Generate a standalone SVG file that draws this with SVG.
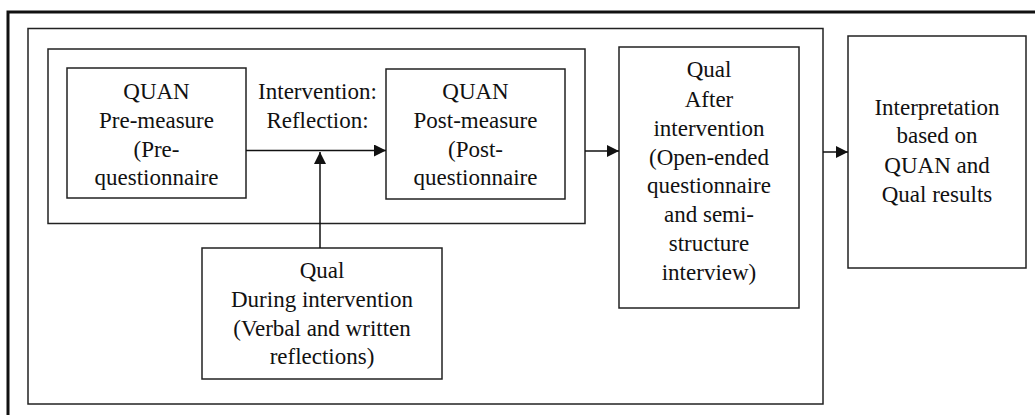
<svg xmlns="http://www.w3.org/2000/svg" width="1035" height="415" viewBox="0 0 1035 415">
<defs>
<style>
.box{fill:none;stroke:#222;stroke-width:1.5}
.frame{fill:none;stroke:#111;stroke-width:3}
.conn{fill:none;stroke:#111;stroke-width:1.5}
.t{font-family:'Liberation Serif','DejaVu Serif',serif;font-size:23px;fill:#111;text-anchor:middle}
</style>
<marker id="ah" viewBox="0 0 12 12" refX="12" refY="6" markerWidth="12" markerHeight="12" markerUnits="userSpaceOnUse" orient="auto">
<path d="M0,0 L12,6 L0,12 Z" fill="#111"/>
</marker>
</defs>
<rect width="1035" height="415" fill="#fff"/>
<g id="outer-frame"><path class="frame" d="M8,420 V12 H1040"/></g>
<g id="frame-all"><rect class="box" x="28" y="28.5" width="795" height="375.5"/></g>
<g id="frame-quan"><rect class="box" x="48" y="49" width="537" height="174.5"/></g>
<g id="quan-pre" class="t" font-family="Liberation Serif, DejaVu Serif, serif">
<rect class="box" x="67" y="68" width="179" height="130"/>
<text x="156.5" y="99">QUAN</text>
<text x="156.5" y="128">Pre-measure</text>
<text x="156.5" y="157">(Pre-</text>
<text x="156.5" y="185">questionnaire</text>
</g>
<g id="intervention-label" class="t" font-family="Liberation Serif, DejaVu Serif, serif">
<text x="317.5" y="98.5">Intervention:</text>
<text x="317.5" y="128">Reflection:</text>
</g>
<g id="quan-post" class="t" font-family="Liberation Serif, DejaVu Serif, serif">
<rect class="box" x="386" y="69" width="179" height="130"/>
<text x="475.5" y="99">QUAN</text>
<text x="475.5" y="128">Post-measure</text>
<text x="475.5" y="157">(Post-</text>
<text x="475.5" y="185">questionnaire</text>
</g>
<g id="qual-during" class="t" font-family="Liberation Serif, DejaVu Serif, serif">
<rect class="box" x="202" y="248" width="240" height="131"/>
<text x="322" y="278">Qual</text>
<text x="322" y="307">During intervention</text>
<text x="322" y="336">(Verbal and written</text>
<text x="322" y="364">reflections)</text>
</g>
<g id="qual-after" class="t" font-family="Liberation Serif, DejaVu Serif, serif">
<rect class="box" x="619" y="47" width="180" height="261"/>
<text x="709" y="77">Qual</text>
<text x="709" y="107">After</text>
<text x="709" y="136">intervention</text>
<text x="709" y="165">(Open-ended</text>
<text x="709" y="193">questionnaire</text>
<text x="709" y="222">and semi-</text>
<text x="709" y="251">structure</text>
<text x="709" y="280">interview)</text>
</g>
<g id="interpretation" class="t" font-family="Liberation Serif, DejaVu Serif, serif">
<rect class="box" x="848" y="36" width="178" height="232"/>
<text x="937" y="115">Interpretation</text>
<text x="937" y="143">based on</text>
<text x="937" y="173">QUAN and</text>
<text x="937" y="202">Qual results</text>
</g>
<g id="connectors">
<line class="conn" x1="246" y1="150.5" x2="386" y2="150.5" marker-end="url(#ah)"/>
<line class="conn" x1="320" y1="248" x2="320" y2="152" marker-end="url(#ah)"/>
<line class="conn" x1="585" y1="151" x2="619" y2="151" marker-end="url(#ah)"/>
<line class="conn" x1="823" y1="152" x2="848" y2="152" marker-end="url(#ah)"/>
</g>
</svg>
